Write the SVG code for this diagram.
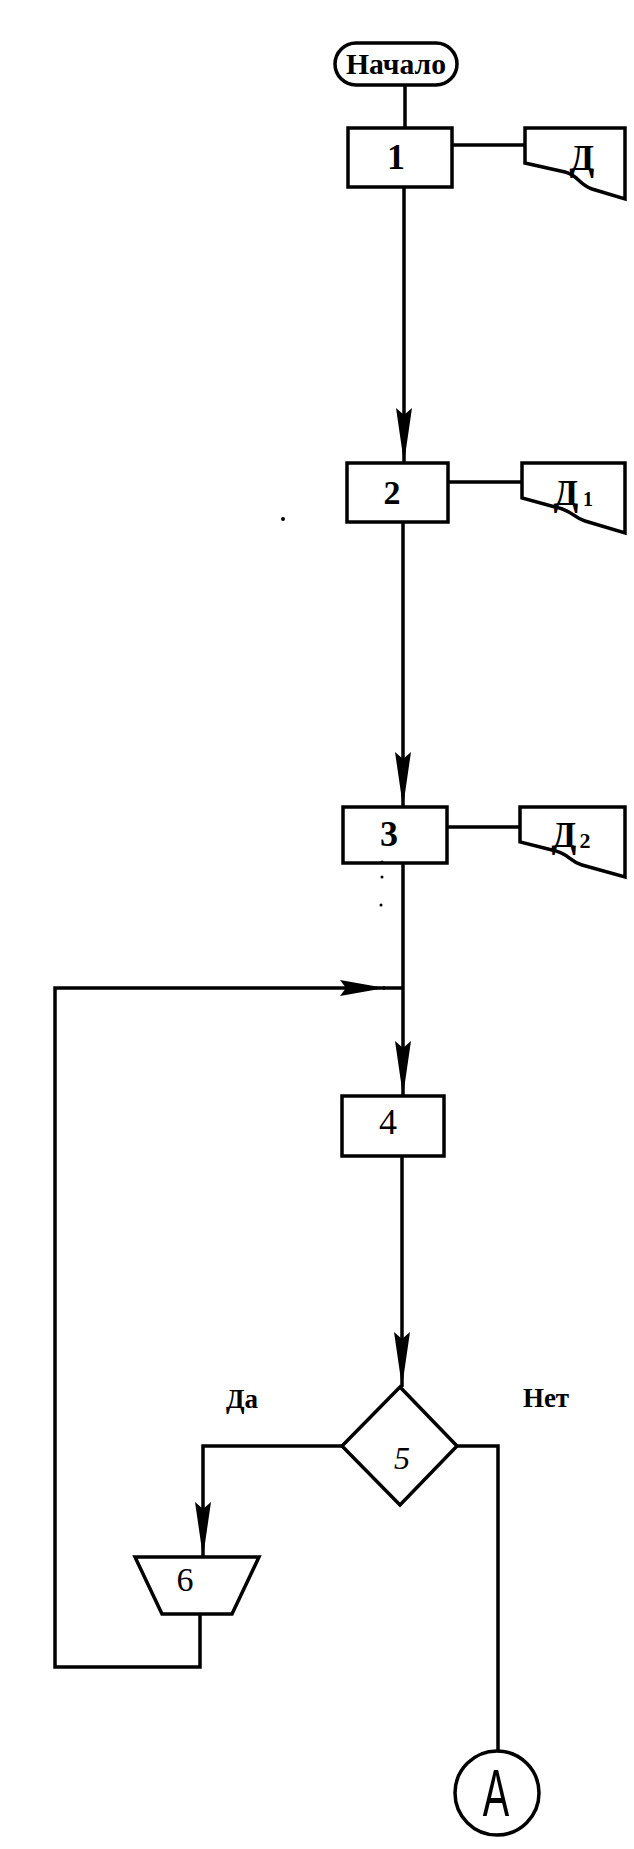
<svg xmlns="http://www.w3.org/2000/svg" width="634" height="1849" viewBox="0 0 634 1849">
<style>
.sh{fill:#fff;stroke:#000;stroke-width:3.5;stroke-linejoin:miter}
.ln{fill:none;stroke:#000;stroke-width:3.5}
.t{font-family:"Liberation Serif","Times New Roman",serif;fill:#000;text-anchor:middle}
.b{font-weight:bold}
</style>
<defs>
<marker id="arr" markerUnits="userSpaceOnUse" markerWidth="60" markerHeight="20" viewBox="-2 -10 60 20" refX="55" refY="0" orient="auto">
<path d="M0,-8 L55,0 L0,8 L7,0 Z" fill="#000"/>
</marker>
<marker id="arrS" markerUnits="userSpaceOnUse" markerWidth="50" markerHeight="20" viewBox="-2 -10 50 20" refX="45" refY="0" orient="auto">
<path d="M0,-8 L45,0 L0,8 L6,0 Z" fill="#000"/>
</marker>
</defs>
<rect width="634" height="1849" fill="#fff"/>
<g id="connectors">
<path class="ln" d="M405,85 V128"/>
<path class="ln" d="M404,187 V463" marker-end="url(#arr)"/>
<path class="ln" d="M403,522 V807" marker-end="url(#arr)"/>
<path class="ln" d="M403,863 V1096" marker-end="url(#arr)"/>
<path class="ln" d="M402,1156 V1387" marker-end="url(#arr)"/>
<path class="ln" d="M452,145 H525"/>
<path class="ln" d="M448,482 H522"/>
<path class="ln" d="M447,827 H520"/>
<path class="ln" d="M342,1446 H203 V1557" marker-end="url(#arr)"/>
<path class="ln" d="M457,1446 H498 V1751"/>
<path class="ln" d="M200,1614 V1667 H55 V988 H385" marker-end="url(#arrS)"/>
<path class="ln" d="M383,988 H403"/>
</g>
<g id="start">
<rect class="sh" x="335" y="43" width="122" height="42" rx="21" ry="21"/>
<text class="t b" x="396" y="74" font-size="30" textLength="100" lengthAdjust="spacingAndGlyphs">Начало</text>
</g>
<g id="box1">
<rect class="sh" x="348" y="128" width="104" height="59"/>
<text class="t b" x="396" y="169" font-size="36">1</text>
</g>
<g id="doc1">
<path class="sh" d="M525,128 H625 V199 L592,189 C578,184 578,175 565,172 L525,163 Z"/>
<text class="t b" x="582" y="170" font-size="36">Д</text>
</g>
<g id="box2">
<rect class="sh" x="347" y="463" width="101" height="59"/>
<text class="t b" x="392" y="504" font-size="34">2</text>
</g>
<g id="doc2">
<path class="sh" d="M522,463 H625 V533 L585,521 C572,517 572,510 555,507 L522,498 Z"/>
<text class="t b" x="566" y="505" font-size="36">Д</text>
<text class="t b" x="588" y="506" font-size="20">1</text>
</g>
<g id="box3">
<rect class="sh" x="343" y="807" width="104" height="56"/>
<text class="t b" x="389" y="846" font-size="36">3</text>
</g>
<g id="doc3">
<path class="sh" d="M520,807 H625 V877 L582,865 C568,861 569,853 552,850 L520,842 Z"/>
<text class="t b" x="564" y="847" font-size="36">Д</text>
<text class="t b" x="585" y="848" font-size="22">2</text>
</g>
<g id="box4">
<rect class="sh" x="342" y="1096" width="102" height="60"/>
<text class="t" x="388" y="1134" font-size="36" font-family="Liberation Sans, Arial, sans-serif">4</text>
</g>
<g id="decision5">
<polygon class="sh" points="400,1387 457,1446 400,1505 342,1446"/>
<text class="t" x="402" y="1469" font-size="32" font-style="italic">5</text>
</g>
<g id="labels">
<text class="t b" x="242" y="1408" font-size="27">Да</text>
<text class="t b" x="546" y="1407" font-size="27">Нет</text>
</g>
<g id="manual6">
<polygon class="sh" points="135,1557 259,1557 232,1614 162,1614"/>
<text class="t" x="185" y="1591" font-size="34">6</text>
</g>
<g id="connectorA">
<circle class="sh" cx="497" cy="1793" r="42"/>
<text x="0" y="0" font-family="Liberation Sans, Arial, sans-serif" font-size="66" text-anchor="middle" transform="translate(496,1816) scale(0.6,1)">A</text>
</g>
<g id="specks" fill="#000">
<circle cx="283" cy="519" r="2"/>
<circle cx="382" cy="862" r="1.5"/>
<circle cx="382" cy="877" r="1.5"/>
<circle cx="381" cy="905" r="1.5"/>
</g>
</svg>
